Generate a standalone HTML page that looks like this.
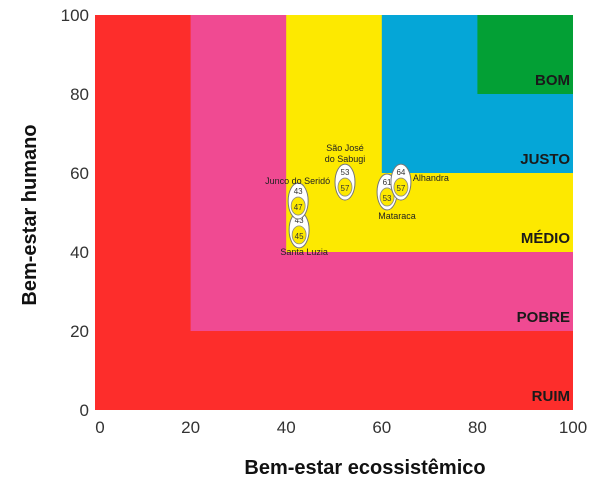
<!DOCTYPE html>
<html><head><meta charset="utf-8"><style>
body{margin:0;background:#fff;width:609px;height:498px;overflow:hidden}
svg{font-family:"Liberation Sans",sans-serif}
</style></head><body>
<svg id="c" width="609" height="498"></svg>
<script>
const zoneNames=["RUIM","POBRE","MÉDIO","JUSTO","BOM"];
const zoneMin=[0,20,40,60,80];
const zoneColors=["#fd2d2b","#f04a92","#fde900","#05a6d7","#03a035"];
const ticks=[0,20,40,60,80,100];
const places=["Santa Luzia","Junco do Seridó","São José do Sabugi","Mataraca","Alhandra"];
const ecoVal=[43,43,53,61,64];
const humVal=[45,47,57,53,57];
const ptX=[42.7,42.5,52.3,61.1,64.0];
const ptY=[45.6,52.9,57.7,55.2,57.7];
const X0=95,X1=573,Y0=410,Y1=15;
const sx=v=>X0+(X1-X0)*v/100, sy=v=>Y0-(Y0-Y1)*v/100;
const svg=document.getElementById('c');const NS="http://www.w3.org/2000/svg";
function mk(t,a,txt){const e=document.createElementNS(NS,t);for(const k in a)e.setAttribute(k,a[k]);if(txt!==undefined)e.textContent=txt;svg.appendChild(e);return e;}
zoneMin.forEach((m,i)=>{
 const r=mk('rect',{x:sx(m),y:sy(100),width:sx(100)-sx(m),height:sy(m)-sy(100),fill:zoneColors[i]});
 
 
});
zoneMin.forEach((m,i)=>{
 const t=mk('text',{x:570,y:sy(m)-9,'text-anchor':'end','font-size':15,'font-weight':'bold',fill:'#1a1a1a'},zoneNames[i]);
 
 
});
ticks.forEach(v=>{
 const a=mk('text',{x:sx(v)+(v==0?5:0),y:433,'text-anchor':'middle','font-size':17,fill:'#333'},v);
 
 
 const b=mk('text',{x:89,y:sy(v)+6,'text-anchor':'end','font-size':17,fill:'#333'},v);
 
 
});
const xt=mk('text',{x:365,y:474,'text-anchor':'middle','font-size':20,'font-weight':'bold',fill:'#111'},'Bem-estar ecossistêmico');


const yt=mk('text',{x:0,y:0,'text-anchor':'middle','font-size':20,'font-weight':'bold',fill:'#111',transform:'translate(36,215) rotate(-90)'},'Bem-estar humano');


places.forEach((p,i)=>{
 const cx=sx(ptX[i]),cy=sy(ptY[i]);
 const g=document.createElementNS(NS,'g');svg.appendChild(g);
 
 
 const add=(t,a,txt)=>{const e=document.createElementNS(NS,t);for(const k in a)e.setAttribute(k,a[k]);if(txt!==undefined)e.textContent=txt;g.appendChild(e);return e;};
 add('ellipse',{cx:cx,cy:cy,rx:10,ry:18,fill:'#fff',stroke:'#777','stroke-width':1});
 add('ellipse',{cx:cx,cy:cy+5,rx:7,ry:9,fill:'#fde900',stroke:'#888','stroke-width':0.8});
 add('text',{x:cx,y:cy-7,'text-anchor':'middle','font-size':8,fill:'#333'},ecoVal[i]);
 add('text',{x:cx,y:cy+9,'text-anchor':'middle','font-size':8,fill:'#333'},humVal[i]);
});
function L(txt,x,y,a){const t=mk('text',{x:x,y:y,'text-anchor':a,'font-size':9,fill:'#222'},txt);}
L('Santa Luzia',sx(ptX[0])+5,sy(ptY[0])+25,'middle');
L('Junco do Seridó',sx(ptX[1])+32,sy(ptY[1])-17,'end');
L('São José',sx(ptX[2]),sy(ptY[2])-31,'middle');
L('do Sabugi',sx(ptX[2]),sy(ptY[2])-20,'middle');
L('Mataraca',sx(ptX[3])+10,sy(ptY[3])+27,'middle');
L('Alhandra',sx(ptX[4])+12,sy(ptY[4])-1,'start');
</script>
</body></html>
